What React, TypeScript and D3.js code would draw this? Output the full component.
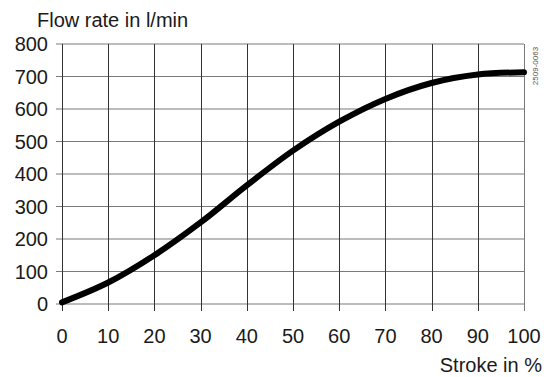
import React, { useEffect, useRef } from "react";
import * as d3 from "d3";

const strokePct = [0, 10, 20, 30, 40, 50, 60, 70, 80, 90, 100];
const flowRate = [5, 66, 150, 251, 365, 472, 561, 631, 680, 706, 713];
const xTicks = [0, 10, 20, 30, 40, 50, 60, 70, 80, 90, 100];
const yTicks = [0, 100, 200, 300, 400, 500, 600, 700, 800];

const width = 556;
const height = 377;
const margin = { top: 44, right: 32, bottom: 73, left: 62 };
const font = "'Liberation Sans', Arial, sans-serif";

const App = (): JSX.Element => {
  const ref = useRef<SVGSVGElement>(null);

  useEffect(() => {
    const svg = d3.select(ref.current);
    svg.selectAll("*").remove();

    const x = d3
      .scaleLinear()
      .domain([0, 100])
      .range([margin.left, width - margin.right]);
    const y = d3
      .scaleLinear()
      .domain([0, 800])
      .range([height - margin.bottom, margin.top]);

    // horizontal grid + left ticks
    svg
      .append("g")
      .selectAll("line")
      .data(yTicks)
      .join("line")
      .attr("x1", x(0) - 6)
      .attr("x2", x(100))
      .attr("y1", (d) => y(d))
      .attr("y2", (d) => y(d))
      .attr("stroke", "#7a7a7a")
      .attr("stroke-width", 1.2);

    // vertical grid + bottom ticks
    svg
      .append("g")
      .selectAll("line")
      .data(xTicks)
      .join("line")
      .attr("x1", (d) => Math.round(x(d)) + 0.5)
      .attr("x2", (d) => Math.round(x(d)) + 0.5)
      .attr("y1", y(800))
      .attr("y2", y(0) + 7)
      .attr("stroke", (d) => (d === 100 ? "#7a7a7a" : "#333"))
      .attr("stroke-width", 1);

    // y labels
    svg
      .append("g")
      .selectAll("text")
      .data(yTicks)
      .join("text")
      .attr("x", 48)
      .attr("y", (d) => y(d) + 7)
      .attr("text-anchor", "end")
      .attr("font-family", font)
      .attr("font-size", 20)
      .attr("fill", "#1a1a1a")
      .text((d) => d);

    // x labels
    svg
      .append("g")
      .selectAll("text")
      .data(xTicks)
      .join("text")
      .attr("x", (d) => x(d))
      .attr("y", 343)
      .attr("text-anchor", "middle")
      .attr("font-family", font)
      .attr("font-size", 20)
      .attr("fill", "#1a1a1a")
      .text((d) => d);

    // curve
    const line = d3
      .line<number>()
      .x((d, i) => x(strokePct[i]))
      .y((d) => y(d))
      .curve(d3.curveCatmullRom.alpha(0.5));
    svg
      .append("path")
      .datum(flowRate)
      .attr("d", line)
      .attr("fill", "none")
      .attr("stroke", "#000")
      .attr("stroke-width", 6)
      .attr("stroke-linecap", "round");

    svg
      .append("text")
      .attr("x", 37)
      .attr("y", 27)
      .attr("font-family", font)
      .attr("font-size", 20)
      .attr("fill", "#1a1a1a")
      .text("Flow rate in l/min");

    svg
      .append("text")
      .attr("x", 542)
      .attr("y", 372)
      .attr("text-anchor", "end")
      .attr("font-family", font)
      .attr("font-size", 20)
      .attr("fill", "#1a1a1a")
      .text("Stroke in %");

    // drawing number
    svg
      .append("text")
      .attr("transform", "translate(538,66) rotate(-90)")
      .attr("text-anchor", "middle")
      .attr("font-family", font)
      .attr("font-size", 8)
      .attr("fill", "#555")
      .text("2509-0063");
  }, []);

  return (
    <svg
      ref={ref}
      width={width}
      height={height}
      style={{ position: "absolute", left: 0, top: 0, background: "#fff" }}
    />
  );
};

export default App;
